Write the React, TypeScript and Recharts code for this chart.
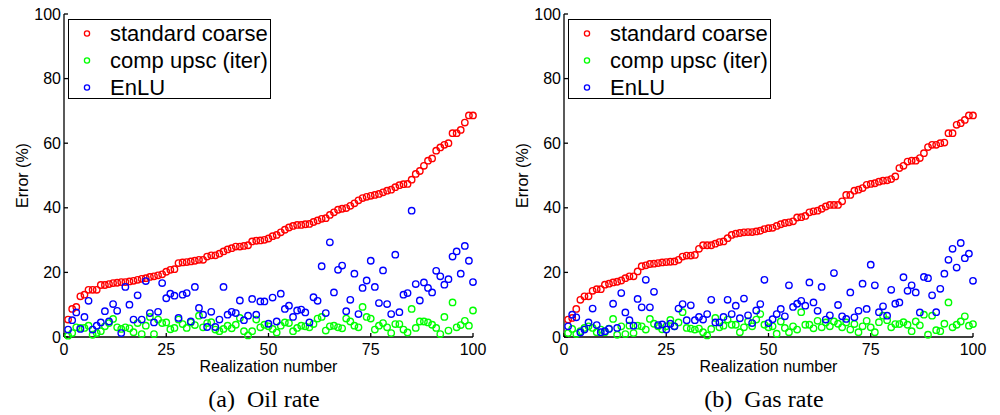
import React from "react";
import { Legend, Scatter, ScatterChart, XAxis, YAxis } from "recharts";

// realization numbers 1..100 (x categories)
const realizations = [
  1, 2, 3, 4, 5, 6, 7, 8, 9, 10, 11, 12, 13, 14, 15, 16, 17, 18, 19, 20,
  21, 22, 23, 24, 25, 26, 27, 28, 29, 30, 31, 32, 33, 34, 35, 36, 37, 38, 39, 40,
  41, 42, 43, 44, 45, 46, 47, 48, 49, 50, 51, 52, 53, 54, 55, 56, 57, 58, 59, 60,
  61, 62, 63, 64, 65, 66, 67, 68, 69, 70, 71, 72, 73, 74, 75, 76, 77, 78, 79, 80,
  81, 82, 83, 84, 85, 86, 87, 88, 89, 90, 91, 92, 93, 94, 95, 96, 97, 98, 99, 100,
];
const xTicks = [0, 25, 50, 75, 100];
const yTicks = [0, 20, 40, 60, 80, 100];
const seriesNames = ["standard coarse", "comp upsc (iter)", "EnLU"];
const seriesColors = ["#ff0000", "#00ff00", "#0000ff"];

// (a) Oil rate
const oilStandard = [
  5.4, 8.7, 9.3, 12.6, 13.1, 14.6, 14.6, 14.6, 16.1, 16.1, 16.4, 16.7, 16.8, 17, 17, 17.2, 17.4, 17.7, 18, 18.2,
  18.6, 18.8, 19.1, 19.4, 20.2, 20.8, 21, 22.9, 23.1, 23.2, 23.4, 23.6, 23.9, 23.9, 24.9, 25.3, 25.3, 25.8, 26.5, 27.1,
  27.5, 28, 28, 28.2, 28.4, 29.6, 29.8, 29.9, 30.1, 30.5, 31.2, 31.6, 32.4, 33.2, 33.9, 34.4, 34.7, 34.7, 34.9, 35,
  35.6, 36.1, 36.6, 36.8, 37.8, 38.6, 39.4, 39.7, 39.9, 40.6, 41.4, 42.3, 43, 43.4, 43.7, 44, 44.3, 44.8, 45.3, 45.6,
  46.4, 47, 47.3, 47.4, 48.7, 50.5, 51.4, 53, 54.6, 55.3, 57.7, 58.7, 59.5, 60, 63.1, 63.1, 64.1, 66.4, 68.6, 68.6,
];
const oilComp = [
  0.4, 1.2, 3, 2.8, 2.8, 3.5, 0.7, 1.2, 1.8, 3.3, 4.3, 5.6, 3, 2.5, 3, 2.7, 1.5, 4.3, 0.9, 3.5,
  6.2, 0.9, 5.4, 4.3, 4.5, 2.4, 2.8, 5.4, 4, 2.8, 4.5, 3.7, 6.6, 3, 4.3, 4.6, 2.3, 1.8, 2.5, 3.5,
  2.7, 3.8, 5.9, 1.8, 0.5, 1.8, 5.4, 3, 3.8, 3.3, 2.5, 1.4, 3.5, 4.5, 4.3, 1.8, 2.8, 3.5, 3.3, 3,
  4, 5.7, 6.2, 2, 3.3, 3.5, 3, 2.7, 5.7, 4.8, 3.5, 3, 9.3, 6.2, 5.7, 2.3, 3.5, 4.3, 3, 1.2,
  4, 4, 2.3, 1.4, 8.7, 2.8, 4.8, 4.8, 4.5, 3.8, 2.8, 0.9, 6.2, 2, 10.7, 3, 3.7, 5, 3.5, 8.2,
];
const oilEnlu = [
  2.3, 5.2, 7.6, 2.5, 6.2, 11.2, 2.3, 3.5, 4.5, 8, 4.8, 10.2, 8.1, 1.2, 15.5, 10, 5.4, 12.9, 5.4, 17.3,
  7.4, 4.5, 7.8, 16.7, 12, 13.4, 12.8, 5.9, 13.1, 13.6, 4.8, 15.5, 9, 6.9, 3.1, 7.8, 3.1, 5.4, 15.5, 6.9,
  7.8, 7.4, 11.3, 5.2, 6.6, 11.8, 6.9, 11, 11, 4.1, 12.2, 4.8, 13.4, 8.7, 9.7, 6.2, 8.2, 8.5, 7.6, 4.5,
  12.3, 11.2, 21.9, 7.4, 29.3, 13.8, 20.8, 22.1, 8, 11.5, 19.6, 7.1, 15.2, 17.5, 23.6, 15.5, 10.5, 20.6, 10.2, 7.1,
  25.5, 7.7, 13.1, 13.6, 39.1, 16.4, 11.3, 16.9, 15.2, 13.8, 20.5, 18.8, 16.2, 17.9, 24.9, 26.5, 19.6, 28.2, 23.6, 17,
];

// (b) Gas rate
const gasStandard = [
  5.4, 5.9, 8.7, 11.5, 12.6, 12.6, 14.3, 14.8, 14.8, 16.2, 16.5, 16.9, 17.1, 17.5, 18.2, 18.8, 18.8, 20.3, 21.9, 22.2,
  22.6, 22.7, 22.9, 23.1, 23.2, 23.3, 23.4, 23.9, 24.9, 25.2, 25.2, 25.4, 27.3, 28.4, 28.4, 28.4, 28.9, 29.4, 29.6, 30.6,
  31.6, 32, 32.2, 32.4, 32.5, 32.5, 32.7, 32.9, 33.4, 33.7, 33.8, 34.4, 34.9, 35.3, 35.5, 35.8, 37, 37.1, 37.5, 38.6,
  38.9, 39.1, 39.7, 40.4, 40.9, 40.9, 40.9, 42, 44, 44, 45.3, 45.6, 46.1, 47.1, 47.4, 47.6, 48.1, 48.4, 48.5, 48.9,
  49.7, 52.3, 53, 54.3, 54.6, 54.6, 55.4, 56.9, 58.8, 59.5, 59.5, 60, 60.2, 63.1, 63.1, 65.7, 66.2, 67.2, 68.6, 68.6,
];
const gasComp = [
  1.2, 2.5, 0.9, 1.8, 2.8, 3.3, 2.8, 1.5, 2.3, 1.5, 2.6, 5.6, 0.7, 3.3, 0.9, 3.5, 1.2, 3.5, 3.3, 2.3,
  5.6, 4.1, 3.3, 2.4, 3.3, 5.3, 3.3, 4.5, 7.7, 2.8, 2.6, 2.3, 2.6, 1.5, 0.5, 2.5, 5.9, 3, 3.5, 5.4,
  3.8, 3.8, 1.5, 3, 4.8, 3.3, 5.4, 7.1, 3.8, 3, 3.3, 1, 4.8, 2.8, 1.5, 3.3, 2.3, 7.7, 3.8, 3.8,
  2.7, 5, 3, 4.5, 3.3, 4.8, 4.1, 3, 4.5, 2.3, 4, 1.5, 3.3, 5, 3, 1.5, 4.6, 6.6, 5.2, 3,
  4, 4, 4.6, 3.8, 1.8, 4.8, 3.6, 6.9, 0.7, 6.6, 2.1, 1.8, 4.1, 10.7, 3, 3.8, 4.8, 6.4, 3.5, 4,
];
const gasEnlu = [
  3.3, 6.9, 6.1, 1.4, 2.3, 4.5, 8.8, 3.7, 1.5, 1.8, 2.5, 10.3, 2.8, 13.6, 7.6, 5.2, 3.5, 11.8, 9.2, 17.7,
  9.2, 14, 3.7, 3.9, 2.3, 4.1, 3.3, 8.8, 10.2, 5.2, 9.8, 5.2, 6.2, 5.4, 7.1, 11.5, 4.5, 4.5, 6.2, 11.5,
  7.1, 9.7, 5.8, 11.9, 6.7, 4.3, 8.2, 10.2, 17.7, 4.3, 5.5, 7.1, 8.7, 6.4, 16, 9.3, 10.3, 11.2, 9.7, 16.9,
  10.7, 8.1, 15.5, 5.4, 6.7, 19.8, 9.9, 6.4, 5.6, 13.8, 6.1, 8.1, 16.5, 8.7, 22.4, 16, 7.7, 9.5, 6.6, 14.6,
  10.3, 10.7, 18.5, 14.3, 16, 13.8, 7.6, 18.6, 18.2, 12.9, 7.7, 14.9, 19.6, 23.9, 27.3, 21.5, 29.1, 24.4, 25.8, 17.4,
];

const SANS = "'Liberation Sans', Arial, sans-serif";
const SERIF = "'Liberation Serif', 'Times New Roman', serif";

const toPoints = (values: number[]) =>
  realizations.map((x, i) => ({ x, y: values[i] }));

const ring = (color: string) => (props: any) => (
  <circle
    cx={props.cx}
    cy={props.cy}
    r={3.2}
    fill="none"
    stroke={color}
    strokeWidth={1.4}
  />
);

function LegendBox() {
  return (
    <div
      style={{
        boxSizing: "border-box",
        width: 203,
        height: 80,
        border: "1.3px solid #000",
        background: "#fff",
        fontFamily: SANS,
        fontSize: 22,
        color: "#000",
      }}
    >
      {seriesNames.map((name, i) => (
        <div
          key={name}
          style={{ height: 27, display: "flex", alignItems: "center", whiteSpace: "nowrap" }}
        >
          <svg width={41} height={27} style={{ flex: "none" }}>
            <circle cx={18} cy={13.5} r={2.6} fill="none" stroke={seriesColors[i]} strokeWidth={1.3} />
          </svg>
          <span style={{ lineHeight: "27px" }}>{name}</span>
        </div>
      ))}
    </div>
  );
}

const yLabel = ({ viewBox }: any) => {
  const x = viewBox.x + 22;
  const y = viewBox.y + viewBox.height / 2;
  return (
    <text
      x={x}
      y={y}
      transform={`rotate(-90 ${x} ${y})`}
      textAnchor="middle"
      dominantBaseline="central"
      fontFamily={SANS}
      fontSize={16}
      fill="#000"
    >
      Error (%)
    </text>
  );
};

const xLabel = ({ viewBox }: any) => (
  <text
    x={viewBox.x + viewBox.width / 2}
    y={372}
    textAnchor="middle"
    fontFamily={SANS}
    fontSize={16}
    fill="#000"
  >
    Realization number
  </text>
);

const tickStyle = { fill: "#000", fontSize: 16, fontFamily: SANS };
const lineStyle = { stroke: "#000", strokeWidth: 1.3 };

function Panel({ series }: { series: number[][] }) {
  return (
    <ScatterChart
      width={500}
      height={415}
      margin={{ top: 14, right: 27, bottom: 48, left: 0 }}
    >
      <XAxis
        type="number"
        dataKey="x"
        domain={[0, 100]}
        ticks={xTicks}
        interval={0}
        height={30}
        tickSize={-4}
        tickMargin={11}
        tick={tickStyle}
        axisLine={lineStyle}
        tickLine={lineStyle}
        label={xLabel}
      />
      <XAxis
        xAxisId="top"
        orientation="top"
        type="number"
        dataKey="x"
        domain={[0, 100]}
        ticks={xTicks}
        interval={0}
        height={0}
        tickSize={-4}
        tickFormatter={() => ""}
        axisLine={lineStyle}
        tickLine={lineStyle}
      />
      <YAxis
        type="number"
        dataKey="y"
        domain={[0, 100]}
        ticks={yTicks}
        interval={0}
        width={64}
        tickSize={-4}
        tickMargin={7}
        tick={tickStyle}
        axisLine={lineStyle}
        tickLine={lineStyle}
        label={yLabel}
      />
      <YAxis
        yAxisId="right"
        orientation="right"
        type="number"
        dataKey="y"
        domain={[0, 100]}
        ticks={yTicks}
        interval={0}
        width={0}
        tickSize={-4}
        tickFormatter={() => ""}
        axisLine={lineStyle}
        tickLine={lineStyle}
      />
      <Legend
        layout="vertical"
        align="center"
        verticalAlign="middle"
        wrapperStyle={{ left: 68, top: 19, width: 203 }}
        content={() => <LegendBox />}
      />
      {series.map((values, i) => (
        <Scatter
          key={seriesNames[i]}
          name={seriesNames[i]}
          data={toPoints(values)}
          fill={seriesColors[i]}
          shape={ring(seriesColors[i])}
          isAnimationActive={false}
        />
      ))}
    </ScatterChart>
  );
}

const captionStyle: React.CSSProperties = {
  position: "absolute",
  top: 387,
  width: 528,
  textAlign: "center",
  fontFamily: SERIF,
  fontSize: 24,
  lineHeight: "24px",
  whiteSpace: "pre",
  color: "#000",
};

export default function App() {
  return (
    <div
      style={{
        position: "absolute",
        left: 0,
        top: 0,
        width: 1000,
        height: 415,
        background: "#fff",
        overflow: "hidden",
      }}
    >
      <div style={{ position: "absolute", left: 0, top: 0 }}>
        <Panel series={[oilStandard, oilComp, oilEnlu]} />
      </div>
      <div style={{ position: "absolute", left: 500, top: 0 }}>
        <Panel series={[gasStandard, gasComp, gasEnlu]} />
      </div>
      <div style={{ ...captionStyle, left: 0 }}>(a)  Oil rate</div>
      <div style={{ ...captionStyle, left: 500 }}>(b)  Gas rate</div>
    </div>
  );
}
